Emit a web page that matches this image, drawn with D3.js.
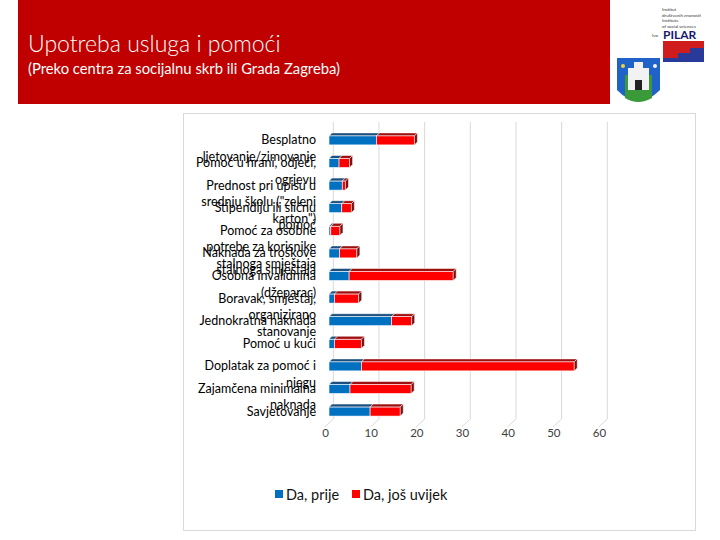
<!DOCTYPE html>
<html>
<head>
<meta charset="utf-8">
<script src="https://cdn.jsdelivr.net/npm/d3@7"></script>
<style>
  body { margin: 0; background: #fff; }
  svg { display: block; font-family: Lato, "Open Sans", sans-serif; }
</style>
</head>
<body>
<svg id="chart" width="720" height="540"></svg>
<script>
// category labels, already broken into lines like the original slide
var categories = [
  ["Besplatno", "ljetovanje/zimovanje"],
  ["Pomoć u hrani, odjeći,", "ogrjevu"],
  ["Prednost pri upisu u", "srednju školu (\"zeleni", "karton\")"],
  ["Stipendiju ili sličnu", "pomoć"],
  ["Pomoć za osobne", "potrebe za korisnike", "stalnoga smještaja"],
  ["Naknada za troškove", "stalnoga smještaja"],
  ["Osobna invalidnina", "(džeparac)"],
  ["Boravak, smještaj,", "organizirano", "stanovanje"],
  ["Jednokratna naknada"],
  ["Pomoć u kući"],
  ["Doplatak za pomoć i", "njegu"],
  ["Zajamčena minimalna", "naknada"],
  ["Savjetovanje"]
];
var daPrije    = [10.4, 2.2, 2.9, 2.8, 0.4, 2.3, 4.4, 1.2, 13.7, 1.2, 7.1, 4.6, 9.0];
var daJosUvijek = [8.3, 2.3, 0.7, 2.1, 2.0, 3.8, 22.8, 5.3, 4.4, 5.9, 46.6, 13.4, 6.6];
var xTicks = [0, 10, 20, 30, 40, 50, 60];
var seriesNames = ["Da, prije", "Da, još uvijek"];

var svg = d3.select("#chart");

// header band
svg.append("rect").attr("x", 18).attr("y", 0).attr("width", 592).attr("height", 104).attr("fill", "#C00000");
svg.append("text").attr("x", 28).attr("y", 52).attr("fill", "#fff").attr("font-size", 23)
  .attr("font-weight", 300).text("Upotreba usluga i pomoći");
svg.append("text").attr("x", 28).attr("y", 74).attr("fill", "#fff").attr("font-size", 14.8)
  .text("(Preko centra za socijalnu skrb ili Grada Zagreba)");

// logos (rough)
var logo = svg.append("g");
["Institut", "društvenih znanosti", "Institute", "of social sciences"].forEach(function(t, i){
  logo.append("text").attr("x", 662).attr("y", 11 + i*5.5).attr("font-size", 4.5).attr("fill", "#333").text(t);
});
logo.append("text").attr("x", 652).attr("y", 37).attr("font-size", 4.5).attr("fill", "#333").text("Ivo");
logo.append("text").attr("x", 663).attr("y", 39).attr("font-size", 12).attr("font-weight", "bold").attr("fill", "#1a1a6e").text("PILAR");
logo.append("path").attr("d", "M663 41 L704 41 L704 48 L690 48 L690 53 L678 53 L678 58 L663 58 Z").attr("fill", "#d01c1c");
logo.append("path").attr("d", "M663 58 L678 58 L678 53 L690 53 L690 48 L704 48 L704 62 L663 62 Z").attr("fill", "#2a3a9a");
logo.append("path").attr("d", "M617 58 L660 58 L660 90 Q638 112 617 90 Z").attr("fill", "#1f62c8");
logo.append("path").attr("d", "M625 75 L652 75 L652 98 Q638 106 625 98 Z").attr("fill", "#3a9a3a");
logo.append("rect").attr("x", 628).attr("y", 68).attr("width", 21).attr("height", 22).attr("fill", "#f2f2f2");
logo.append("rect").attr("x", 634).attr("y", 62).attr("width", 9).attr("height", 8).attr("fill", "#f2f2f2");
logo.append("rect").attr("x", 635).attr("y", 80).attr("width", 7).attr("height", 10).attr("fill", "#222");
logo.append("circle").attr("cx", 623).attr("cy", 66).attr("r", 2).attr("fill", "#f2d23a");
logo.append("circle").attr("cx", 655).attr("cy", 66).attr("r", 2).attr("fill", "#f2f2f2");

// chart frame
svg.append("rect").attr("x", 183.5).attr("y", 113.5).attr("width", 512).attr("height", 417)
  .attr("fill", "none").attr("stroke", "#d9d9d9");

var x = d3.scaleLinear().domain([0, 60]).range([329, 603]);
var y = d3.scaleBand().domain(d3.range(categories.length)).range([128, 422]).paddingInner(0.55).paddingOuter(0.28);
var depth = 4.3;

// back wall gridlines + floor diagonals
var grid = svg.append("g");
xTicks.forEach(function(t){
  grid.append("line").attr("x1", x(t) + depth).attr("x2", x(t) + depth).attr("y1", 122).attr("y2", 419)
    .attr("stroke", "#d9d9d9");
  grid.append("line").attr("x1", x(t) + depth).attr("x2", x(t) - depth).attr("y1", 419).attr("y2", 427)
    .attr("stroke", "#d9d9d9");
});

var xAxis = d3.axisBottom(x).tickValues(xTicks).tickSize(0).tickPadding(0);
var ax = svg.append("g").attr("transform", "translate(-4,429)").call(xAxis);
ax.select(".domain").remove();
ax.selectAll("text").attr("font-family", "Lato, sans-serif").attr("font-size", 11.5).attr("fill", "#404040");

// bars, drawn as flat 3d blocks
var colors = [{front: "#0070C0", top: "#1B4F7E", side: "#0B3D66"}, {front: "#FF0000", top: "#9E1010", side: "#7A1010"}];
var bars = svg.append("g");
categories.forEach(function(c, i){
  var vals = [daPrije[i], daJosUvijek[i]];
  var h = 9;
  var y0 = y(i) + y.bandwidth()/2 - h/2 + 1;
  var start = 0;
  vals.forEach(function(v, s){
    var x0 = x(start), x1 = x(start + v);
    var col = colors[s];
    bars.append("path")
      .attr("d", "M" + x0 + " " + y0 + " L" + (x0 + 3) + " " + (y0 - 3) + " L" + (x1 + 3) + " " + (y0 - 3) + " L" + x1 + " " + y0 + " Z")
      .attr("fill", col.top).attr("stroke", "#fff").attr("stroke-width", 0.5);
    bars.append("rect").attr("x", x0).attr("y", y0).attr("width", x1 - x0).attr("height", h)
      .attr("fill", col.front).attr("stroke", "#fff").attr("stroke-width", 0.6);
    if (s == vals.length - 1) {
      bars.append("path")
        .attr("d", "M" + x1 + " " + y0 + " L" + (x1 + 3) + " " + (y0 - 3) + " L" + (x1 + 3) + " " + (y0 + h - 3) + " L" + x1 + " " + (y0 + h) + " Z")
        .attr("fill", col.side).attr("stroke", "#fff").attr("stroke-width", 0.5);
    }
    start += v;
  });
});

// category labels (they overlap, as in the original)
var labels = svg.append("g");
categories.forEach(function(lines, i){
  var cy = y(i) + y.bandwidth()/2;
  var t = labels.append("text").attr("x", 316).attr("y", cy + 5).attr("text-anchor", "end")
    .attr("font-size", 12.5).attr("fill", "#000");
  lines.forEach(function(l, k){
    t.append("tspan").attr("x", 316).attr("dy", k == 0 ? 0 : 16.5).text(l);
  });
});

// legend
var leg = svg.append("g").attr("transform", "translate(275,495)");
var lx = [0, 77];
seriesNames.forEach(function(n, s){
  leg.append("rect").attr("x", lx[s]).attr("y", -5).attr("width", 8).attr("height", 8).attr("fill", colors[s].front);
  leg.append("text").attr("x", lx[s] + 11).attr("y", 4.5).attr("font-size", 14.5).attr("fill", "#111").text(n);
});
</script>
</body>
</html>
